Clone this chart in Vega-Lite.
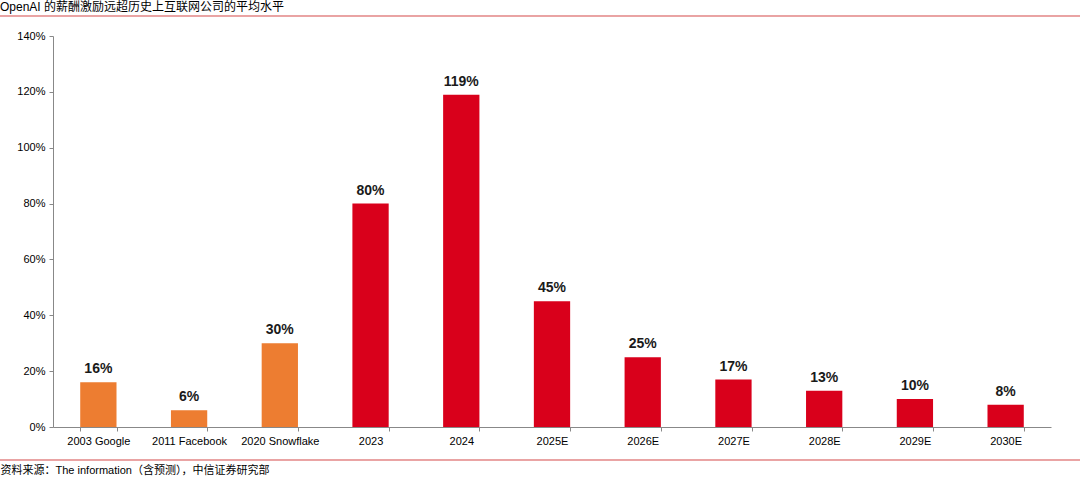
{
  "$schema": "https://vega.github.io/schema/vega-lite/v6.json",
  "autosize": {"type": "none"},
  "width": 998,
  "height": 391,
  "padding": {"left": 53, "top": 36, "right": 29, "bottom": 50},
  "background": "white",
  "config": {
    "view": {"stroke": null},
    "font": "Liberation Sans",
    "axis": {"labelFont": "Liberation Sans", "titleFont": "Liberation Sans"}
  },
  "title": {
    "text": "OpenAI 的薪酬激励远超历史上互联网公司的平均水平",
    "anchor": "start",
    "frame": "group",
    "dx": -53,
    "offset": 2,
    "fontSize": 12,
    "fontWeight": "normal",
    "color": "#000000",
    "font": "Liberation Sans, Noto Sans CJK SC"
  },
  "data": {
    "values": [
      {"label": "2003 Google", "value": 0.16, "type": "hist", "text": "16%"},
      {"label": "2011 Facebook", "value": 0.06, "type": "hist", "text": "6%"},
      {"label": "2020 Snowflake", "value": 0.30, "type": "hist", "text": "30%"},
      {"label": "2023", "value": 0.80, "type": "openai", "text": "80%"},
      {"label": "2024", "value": 1.19, "type": "openai", "text": "119%"},
      {"label": "2025E", "value": 0.45, "type": "openai", "text": "45%"},
      {"label": "2026E", "value": 0.25, "type": "openai", "text": "25%"},
      {"label": "2027E", "value": 0.17, "type": "openai", "text": "17%"},
      {"label": "2028E", "value": 0.13, "type": "openai", "text": "13%"},
      {"label": "2029E", "value": 0.10, "type": "openai", "text": "10%"},
      {"label": "2030E", "value": 0.08, "type": "openai", "text": "8%"}
    ]
  },
  "layer": [
    {
      "mark": {"type": "bar"},
      "encoding": {
        "x": {
          "field": "label",
          "type": "nominal",
          "sort": null,
          "scale": {"paddingInner": 0.6, "paddingOuter": 0.3},
          "axis": {
            "title": "资料来源：The information（含预测），中信证券研究部",
            "titleFont": "Liberation Sans, Noto Sans CJK SC",
            "titleFontSize": 11,
            "titleFontWeight": "normal",
            "titleColor": "#000000",
            "titleAnchor": "start",
            "titleAlign": "left",
            "titleBaseline": "middle",
            "titleX": -53,
            "titleY": 43,
            "labelAngle": 0,
            "labelFontSize": 11,
            "labelColor": "#000000",
            "labelPadding": 4,
            "tickBand": "extent",
            "tickSize": 4,
            "tickColor": "#888888",
            "domainColor": "#888888",
            "labelFont": "Liberation Sans"
          }
        },
        "y": {
          "field": "value",
          "type": "quantitative",
          "scale": {"domain": [0, 1.4]},
          "axis": {
            "title": null,
            "values": [0, 0.2, 0.4, 0.6, 0.8, 1.0, 1.2, 1.4],
            "format": ".0%",
            "grid": false,
            "labelFontSize": 11,
            "labelColor": "#000000",
            "tickSize": 4,
            "tickColor": "#888888",
            "domainColor": "#888888",
            "labelPadding": 4
          }
        },
        "color": {
          "field": "type",
          "type": "nominal",
          "scale": {"domain": ["hist", "openai"], "range": ["#ED7D31", "#D9001B"]},
          "legend": null
        }
      }
    },
    {
      "mark": {"type": "text", "baseline": "bottom", "dy": -6, "fontSize": 14, "fontWeight": "bold", "color": "#1a1a1a", "font": "Liberation Sans"},
      "encoding": {
        "x": {"field": "label", "type": "nominal", "sort": null},
        "y": {"field": "value", "type": "quantitative"},
        "text": {"field": "text"}
      }
    },
    {
      "mark": {"type": "rule", "stroke": "#E9A3A3", "strokeWidth": 1, "clip": false},
      "encoding": {
        "x": {"value": -53},
        "x2": {"value": 1027},
        "y": {"value": -20}
      }
    },
    {
      "mark": {"type": "rule", "stroke": "#E9A3A3", "strokeWidth": 1, "clip": false},
      "encoding": {
        "x": {"value": -53},
        "x2": {"value": 1027},
        "y": {"value": 424}
      }
    }
  ]
}
